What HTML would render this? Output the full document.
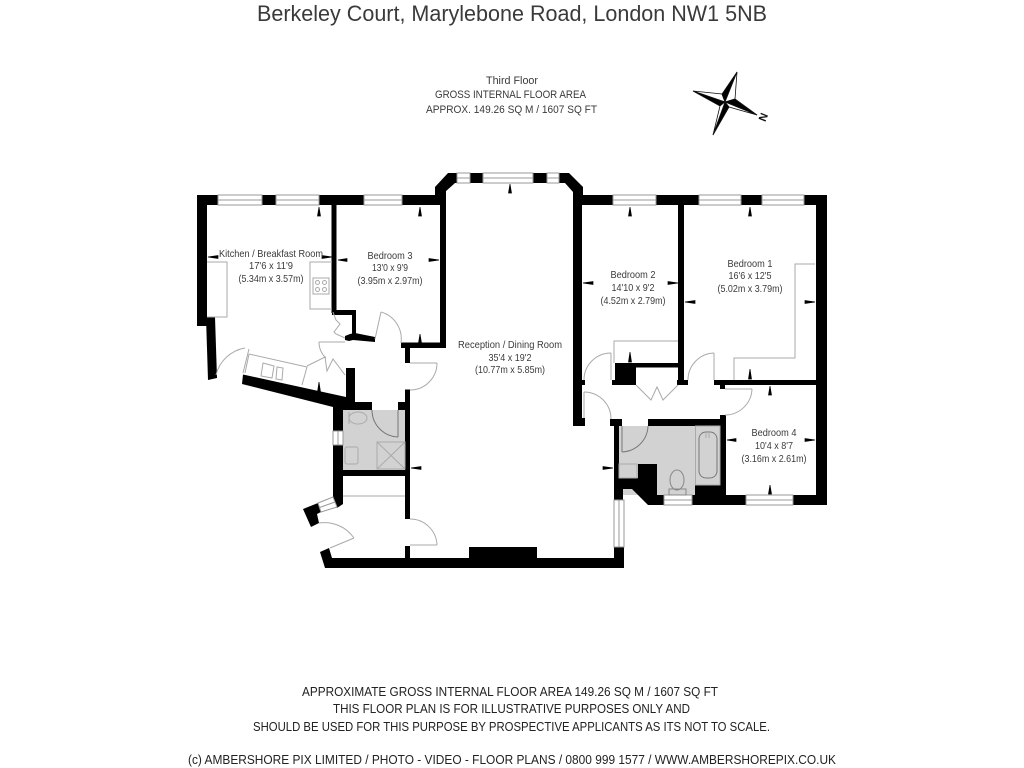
<!DOCTYPE html>
<html>
<head>
<meta charset="utf-8">
<title>Berkeley Court Floor Plan</title>
<style>
html,body{margin:0;padding:0;background:#fff;width:1024px;height:768px;overflow:hidden}
svg{display:block}
text{font-family:"Liberation Sans",sans-serif;fill:#3a3a3a;text-anchor:middle}
.l{font-size:10.500px}
.h{font-size:11px}
.f{font-size:13px;fill:#222}
.g{fill:none;stroke:#aaa;stroke-width:1}
.d{fill:none;stroke:#aaa;stroke-width:1}
.k{fill:#000}
</style>
</head>
<body>
<svg width="1024" height="768" viewBox="0 0 1024 768" xmlns="http://www.w3.org/2000/svg">
<rect width="1024" height="768" fill="#fff"/>

<text x="512" y="21" font-size="22" textLength="510" lengthAdjust="spacingAndGlyphs">Berkeley Court, Marylebone Road, London NW1 5NB</text>

<text class="h" x="512" y="84" textLength="52" lengthAdjust="spacingAndGlyphs">Third Floor</text>
<text class="h" x="510.500" y="98" textLength="151" lengthAdjust="spacingAndGlyphs">GROSS INTERNAL FLOOR AREA</text>
<text class="h" x="511.500" y="113" textLength="171" lengthAdjust="spacingAndGlyphs">APPROX. 149.26 SQ M / 1607 SQ FT</text>

<!-- compass -->
<g stroke="#111" stroke-width="0.8">
<polygon points="725,102 693,91 722,94" fill="#fff"/>
<polygon points="725,102 693,91 720,106" fill="#000"/>
<polygon points="725,102 737,72 722,94" fill="#000"/>
<polygon points="725,102 737,72 735,99" fill="#fff"/>
<polygon points="725,102 757,115 735,99" fill="#000"/>
<polygon points="725,102 757,115 729,107" fill="#fff"/>
<polygon points="725,102 713,135 729,107" fill="#000"/>
<polygon points="725,102 713,135 720,106" fill="#fff"/>
</g>
<text x="763" y="121" font-size="11" font-weight="bold" transform="rotate(-68 763 117)" style="fill:#111">N</text>

<!-- grey fills -->
<rect x="343" y="410" width="62" height="60" fill="#d2d2d2"/>
<rect x="619" y="426" width="101" height="69" fill="#d2d2d2"/>

<!-- WALLS -->
<g class="k">
<rect x="197" y="195" width="21" height="10"/>
<rect x="262" y="195" width="14" height="10"/>
<rect x="319" y="195" width="45" height="10"/>
<rect x="402" y="195" width="38" height="10"/>
<rect x="197" y="195" width="10" height="131"/>
<polygon points="206,317 215,317 217,378 208,380"/>
<!-- kitchen/bed3 wall -->
<rect x="331.500" y="205" width="5" height="108"/>
<rect x="332" y="310" width="24" height="5"/>
<rect x="352" y="310" width="4" height="27"/>
<polygon points="345,336 350,334 355,333 375,337 375,342 353,340 349,341 345,340"/>
<!-- bed3 bottom / reception left -->
<rect x="401" y="342.500" width="45" height="5.500"/>
<rect x="405" y="343" width="5" height="20"/>
<rect x="440" y="187" width="6" height="161"/>
<rect x="405" y="389.500" width="5" height="129.500"/>
<rect x="405" y="546" width="5" height="14"/>
<rect x="398" y="402" width="12" height="8"/>
<!-- bay -->
<polygon points="435,205 435,187 448,173 457,173 457,183 455,183 445,192 445,205"/>
<rect x="470" y="173" width="13" height="10"/>
<rect x="533" y="173" width="14" height="10"/>
<polygon points="559,173 569,173 583,187 583,195 573,195 573,192 565,183 559,183"/>
<!-- reception right upper -->
<rect x="573" y="187" width="9" height="238.500"/>
<rect x="573" y="418" width="12" height="8"/>
<rect x="582" y="380" width="3" height="5"/>
<!-- top right -->
<rect x="573" y="195" width="40" height="10"/>
<rect x="656" y="195" width="43" height="10"/>
<rect x="741" y="195" width="21" height="10"/>
<rect x="804" y="195" width="23" height="10"/>
<rect x="816" y="195" width="11" height="310"/>
<!-- bed2/bed1 -->
<rect x="678" y="205" width="6" height="180"/>
<rect x="677" y="380" width="11" height="5"/>
<!-- cupboard block -->
<rect x="615" y="363" width="21" height="22"/>
<rect x="612" y="380" width="24" height="5"/>
<rect x="636" y="363" width="42" height="4.500"/>
<!-- bed1 bottom -->
<rect x="714" y="380" width="103" height="5"/>
<rect x="720" y="385" width="5" height="4"/>
<!-- bed4 left, bathroom top -->
<rect x="720" y="415" width="6" height="90"/>
<rect x="648" y="419" width="78" height="7"/>
<rect x="610" y="419" width="12" height="7"/>
<rect x="614" y="419" width="5" height="60"/>
<!-- bath bottom -->
<polygon points="638,464 657,464 657,495 664,495 664,505 648,505 632,489 623,489 623,500 614,500 614,478 638,478"/>
<rect x="692" y="495" width="54" height="10"/>
<rect x="695" y="485" width="25" height="10"/>
<rect x="793" y="495" width="34" height="10"/>
<!-- bottom -->
<polygon points="325,568 320,552 329,548 332,558 469,558 469,547 537,547 537,558 614,558 614,547 624,547 624,568"/>
<!-- kitchen slanted bottom -->
<polygon points="243,374.500 346,397 346,368 355,368 355,402 372,402 372,410 343,410 343,470 405,470 405,476 343,476 343,504 337,508 332,502 333,498 333,407 242,384"/>
<rect x="333" y="402" width="10" height="29"/>
<rect x="333" y="445" width="10" height="55"/>
<!-- entrance block -->
<polygon points="303,509 318,503 321,512 317,514 319,523 311,527"/>
</g>

<!-- WINDOWS -->
<g fill="#fff" stroke="#999" stroke-width="1">
<path d="M218 195H262V205H218ZM218 200H262"/>
<path d="M276 195H319V205H276ZM276 200H319"/>
<path d="M364 195H402V205H364ZM364 200H402"/>
<path d="M457 173H470V183H457ZM457 178H470"/>
<path d="M483 173H533V183H483ZM483 178H533"/>
<path d="M547 173H559V183H547ZM547 178H559"/>
<path d="M613 195H656V205H613ZM613 200H656"/>
<path d="M699 195H741V205H699ZM699 200H741"/>
<path d="M762 195H804V205H762ZM762 200H804"/>
<path d="M664 495H692V505H664ZM664 500H692"/>
<path d="M746 495H793V505H746ZM746 500H793"/>
<path d="M614 500H624V547H614ZM619 500V547"/>
<path d="M333 431H343V445H333ZM338 431V445"/>
<path d="M318 503L333 497L337 507L321 512ZM319.500 507.500L335 502"/>
</g>

<!-- fixtures -->
<g class="g">
<path d="M207 262H227V317H207"/>
<path d="M332 262H310V309H332"/>
<rect x="313" y="278" width="16" height="16"/>
<circle cx="317.500" cy="282.500" r="2"/><circle cx="324.500" cy="282.500" r="2"/>
<circle cx="317.500" cy="289.500" r="2"/><circle cx="324.500" cy="289.500" r="2"/>
<path d="M815 264H795V358H734V380"/>
<path d="M678 341H614V363"/>
<path d="M249 354L307 367L302 385M249 354L245 373"/>
<path d="M263 363L274 366L272 378L261 376Z"/>
<path d="M277 367L283 368L282 380L276 379Z"/>
<path d="M343 496H405"/>
<rect x="345" y="447" width="13" height="17" rx="2"/>
<rect x="377" y="442" width="28" height="27"/>
<path d="M377 442L405 469M405 442L377 469"/>
<path d="M349 412V424"/>
<ellipse cx="358" cy="418" rx="9" ry="6"/>
<rect x="695.500" y="426" width="24.500" height="59"/>
<rect x="699" y="432" width="18" height="46" rx="7" stroke="#777"/>
<path d="M706 432V438M709 432V438"/>
<rect x="619" y="464" width="18" height="14"/>
<ellipse cx="677" cy="480" rx="7" ry="10" stroke="#888"/>
<rect x="669" y="489" width="17" height="6" stroke="#888"/>
</g>

<!-- DOORS -->
<g class="d">
<path d="M437 363H410M437 363A27 27 0 0 1 410 390"/>
<path d="M437 545H410M437 545A27 27 0 0 0 410 519"/>
<path d="M584 392V418M584 392A27 27 0 0 1 611 419"/>
<path d="M611 353V380M611 353A27 27 0 0 0 584 380"/>
<path d="M714 353V380M714 353A27 27 0 0 0 688 380"/>
<path d="M725 389H752M752 389A27 27 0 0 1 725 415"/>
<path d="M622 426V452M622 452A27 27 0 0 0 648 426" stroke="#777"/>
<path d="M398 410V437M398 437A27 27 0 0 1 372 410" stroke="#777"/>
<path d="M375 339L381 312M381 312A28 28 0 0 1 401 343"/>
<path d="M319 342H345M319 342A22 22 0 0 0 326 358"/>
<path d="M307 366L325 357L327 371L333 359L345 375"/>
<path d="M636 385L651 400L657 387L663 400L678 385"/>
<path d="M249 349L243 373M245 348A36 36 0 0 0 216 375"/>
<path d="M354 538L330 548M354 538A36 36 0 0 0 319 523"/>
<path d="M333 312L336 320L340 324L334 332L336 334L345 338"/>
</g>

<!-- ARROWS -->
<g fill="#000" stroke="#000" stroke-width="0.7">
<path d="M319 207L317.500 216H320.500Z"/><path d="M420 207L418.500 216H421.500Z"/>
<path d="M420 334L418.500 343H421.500Z"/><path d="M319 382L317.500 392H320.500Z"/>
<path d="M510 184L508.500 193H511.500Z"/><path d="M630 207L628.500 216H631.500Z"/>
<path d="M630 352L628.500 362H631.500Z"/><path d="M750 207L748.500 216H751.500Z"/>
<path d="M750 369L748.500 379H751.500Z"/><path d="M770 386L768.500 395H771.500Z"/>
<path d="M770 485L768.500 494H771.500Z"/>
<path d="M338 260L347 258.500V261.500Z"/><path d="M439 260L429 258.500V261.500Z"/>
<path d="M208 257L218 255.500V258.500Z"/><path d="M332 257L322 255.500V258.500Z"/>
<path d="M411 468L421 466.500V469.500Z"/><path d="M613 468L603 466.500V469.500Z"/>
<path d="M583 283L593 281.500V284.500Z"/><path d="M678 283L668 281.500V284.500Z"/>
<path d="M685 302L695 300.500V303.500Z"/><path d="M815 302L805 300.500V303.500Z"/>
<path d="M727 440L736 438.500V441.500Z"/><path d="M815 440L805 438.500V441.500Z"/>
</g>

<!-- ROOM LABELS -->
<text class="l" x="271" y="257" textLength="104" lengthAdjust="spacingAndGlyphs">Kitchen / Breakfast Room</text>
<text class="l" x="271" y="269" textLength="44" lengthAdjust="spacingAndGlyphs">17'6 x 11'9</text>
<text class="l" x="271" y="282" textLength="65" lengthAdjust="spacingAndGlyphs">(5.34m x 3.57m)</text>
<text class="l" x="390" y="259" textLength="45" lengthAdjust="spacingAndGlyphs">Bedroom 3</text>
<text class="l" x="390" y="271" textLength="36" lengthAdjust="spacingAndGlyphs">13'0 x 9'9</text>
<text class="l" x="390" y="284" textLength="65" lengthAdjust="spacingAndGlyphs">(3.95m x 2.97m)</text>
<text class="l" x="510" y="348" textLength="104" lengthAdjust="spacingAndGlyphs">Reception / Dining Room</text>
<text class="l" x="510" y="361" textLength="43" lengthAdjust="spacingAndGlyphs">35'4 x 19'2</text>
<text class="l" x="510" y="373" textLength="70" lengthAdjust="spacingAndGlyphs">(10.77m x 5.85m)</text>
<text class="l" x="633" y="278" textLength="45" lengthAdjust="spacingAndGlyphs">Bedroom 2</text>
<text class="l" x="633" y="291" textLength="43" lengthAdjust="spacingAndGlyphs">14'10 x 9'2</text>
<text class="l" x="633" y="304" textLength="65" lengthAdjust="spacingAndGlyphs">(4.52m x 2.79m)</text>
<text class="l" x="750" y="267" textLength="45" lengthAdjust="spacingAndGlyphs">Bedroom 1</text>
<text class="l" x="750" y="279" textLength="43" lengthAdjust="spacingAndGlyphs">16'6 x 12'5</text>
<text class="l" x="750" y="292" textLength="65" lengthAdjust="spacingAndGlyphs">(5.02m x 3.79m)</text>
<text class="l" x="774" y="436" textLength="45" lengthAdjust="spacingAndGlyphs">Bedroom 4</text>
<text class="l" x="774" y="449" textLength="38" lengthAdjust="spacingAndGlyphs">10'4 x 8'7</text>
<text class="l" x="774" y="462" textLength="65" lengthAdjust="spacingAndGlyphs">(3.16m x 2.61m)</text>

<!-- FOOTER -->
<text class="f" x="510" y="696" textLength="416" lengthAdjust="spacingAndGlyphs">APPROXIMATE GROSS INTERNAL FLOOR AREA 149.26 SQ M / 1607 SQ FT</text>
<text class="f" x="511.500" y="713" textLength="357" lengthAdjust="spacingAndGlyphs">THIS FLOOR PLAN IS FOR ILLUSTRATIVE PURPOSES ONLY AND</text>
<text class="f" x="511.500" y="731" textLength="517" lengthAdjust="spacingAndGlyphs">SHOULD BE USED FOR THIS PURPOSE BY PROSPECTIVE APPLICANTS AS ITS NOT TO SCALE.</text>
<text class="f" x="512" y="764" textLength="648" lengthAdjust="spacingAndGlyphs">(c) AMBERSHORE PIX LIMITED / PHOTO - VIDEO - FLOOR PLANS / 0800 999 1577 / WWW.AMBERSHOREPIX.CO.UK</text>
</svg>
</body>
</html>
